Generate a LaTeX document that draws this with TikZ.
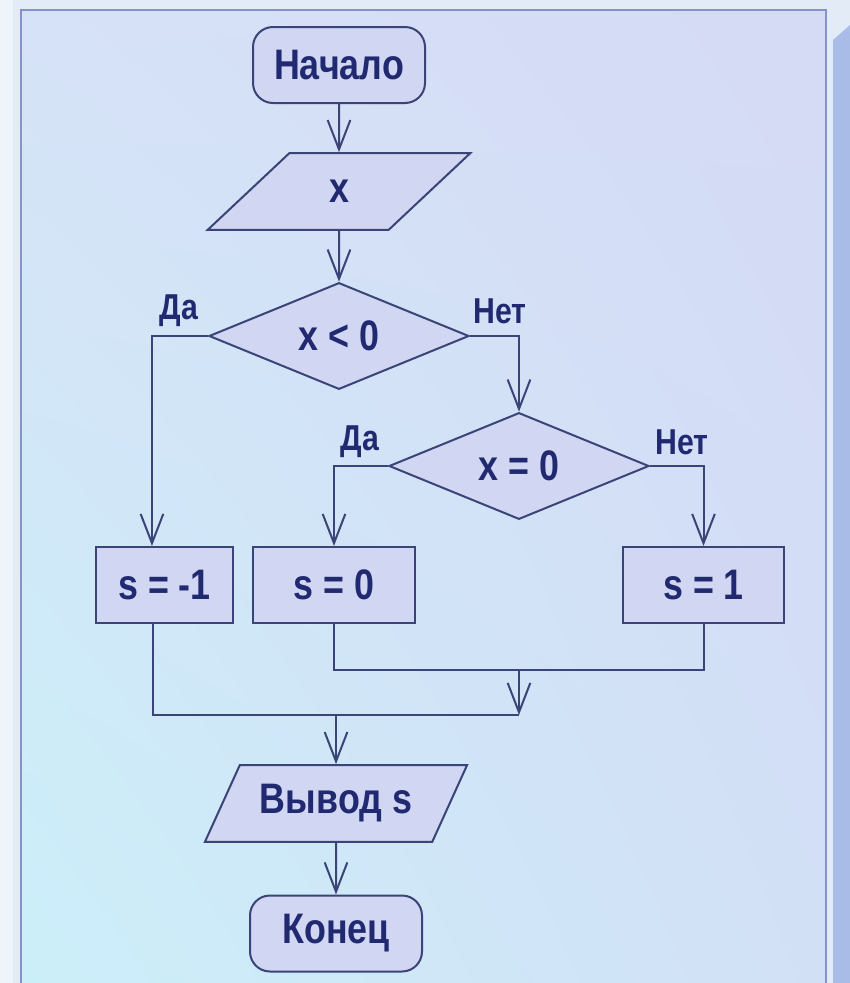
\documentclass[tikz,border=0pt]{standalone}
\usepackage{fontspec}
\setmainfont{Liberation Sans}[FakeStretch=0.84]
\usetikzlibrary{shapes.geometric,arrows.meta,shadings}

\definecolor{ink}{HTML}{3B4476}
\definecolor{txt}{HTML}{212A70}
\definecolor{shapefill}{HTML}{D1D6F3}
\definecolor{frame}{HTML}{8592CC}
\definecolor{stripe}{HTML}{A9BCE8}
\definecolor{pagebg}{HTML}{E3EBF7}
\definecolor{edgebg}{HTML}{EEF4FA}
\definecolor{panelUL}{HTML}{D6E2F7}
\definecolor{panelUR}{HTML}{D5DAF5}
\definecolor{panelLL}{HTML}{CBEFF9}
\definecolor{panelLR}{HTML}{D2E0F6}

\tikzset{
  base/.style={draw=ink, line width=1.5pt, fill=shapefill, text=txt,
    font=\bfseries\fontsize{32}{36}\selectfont, inner sep=0pt},
  terminal/.style={base, rectangle, rounded corners=15pt,
    minimum width=129pt, minimum height=57pt},
  io/.style={base, trapezium, trapezium left angle=54, trapezium right angle=126,
    trapezium stretches=true, minimum width=197pt, minimum height=57.5pt},
  decision/.style={base, diamond, shape aspect=2.4,
    minimum width=195pt, minimum height=80pt},
  process/.style={base, rectangle, minimum height=57pt},
  line/.style={draw=ink, line width=1.5pt},
  arr/.style={line, -{Straight Barb[length=22pt, width=17pt, line width=1.5pt]}},
  branch/.style={text=txt, font=\bfseries\fontsize{27}{30}\selectfont, inner sep=0pt}
}

\begin{document}
\begin{tikzpicture}[x=0.75pt, y=-0.75pt]
  \useasboundingbox (0,0) rectangle (850,983);

  % page background and slide panel
  \fill[pagebg] (0,0) rectangle (850,983);
  \fill[edgebg] (0,0) rectangle (13,983);
  \shade[upper left=panelUL, upper right=panelUR,
         lower left=panelLL, lower right=panelLR]
    (21,10) rectangle (826,990);
  \draw[frame, line width=1.5pt] (21,990) -- (21,10) -- (826,10) -- (826,990);
  \fill[stripe] (833,40) -- (850,25) -- (850,983) -- (833,983) -- cycle;

  % blocks
  \node[terminal] (start) at (339,65) {Начало};
  \node[io] (inp) at (339,191.5) {x};
  \node[decision] (d1) at (339,336) {x < 0};
  \node[decision] (d2) at (519,466) {x = 0};
  \node[process, minimum width=102.5pt] (sm1) at (164.5,585) {s = -1};
  \node[process, minimum width=121.5pt] (s0) at (334,585) {s = 0};
  \node[process, minimum width=121pt] (s1) at (703.5,585) {s = 1};
  \node[io] (out) at (336,803.5) {Вывод s};
  \node[terminal] (stop) at (336,933.5) {Конец};

  % branch labels
  \node[branch] (yes1) at (179,311) {Да};
  \node[branch] (no1) at (500,311) {Нет};
  \node[branch] (yes2) at (360,442) {Да};
  \node[branch] (no2) at (682,442) {Нет};

  % junction points below the assignments
  \coordinate (j1) at (519,670);
  \coordinate (j2) at (519,715);

  % flow
  \draw[arr] (start) -- (inp);
  \draw[arr] (inp) -- (d1);
  \draw[arr] (d1.west) -| ([xshift=-9.4pt]sm1.north);
  \draw[arr] (d1.east) -| (d2.north);
  \draw[arr] (d2.west) -| (s0.north);
  \draw[arr] (d2.east) -| (s1.north);
  \draw[line] (s0.south) |- (j1) -| (s1.south);
  \draw[arr] (j1) -- (j2);
  \draw[line] ([xshift=-9pt]sm1.south) |- (j2);
  \draw[arr] (j2 -| out.north) -- (out.north);
  \draw[arr] (out) -- (stop);
\end{tikzpicture}
\end{document}
